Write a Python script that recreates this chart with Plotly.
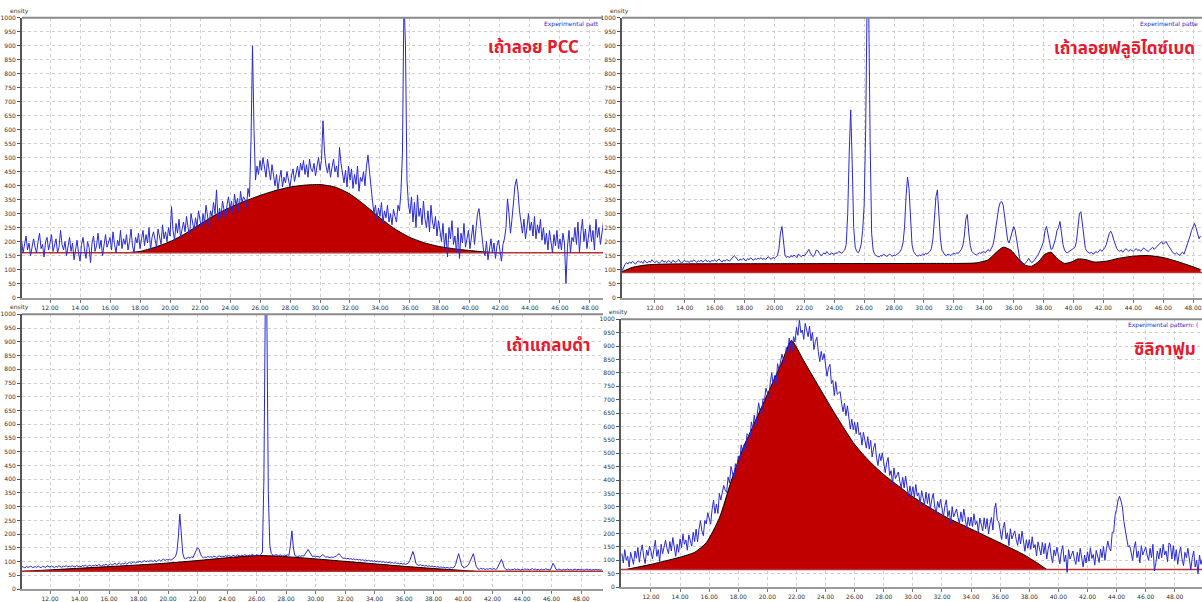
import plotly.graph_objects as go

# ---------------- data ----------------
# Panel 1: เถ้าลอย PCC  (2theta from 10.0, step 0.1)
p1_x0 = 10.0
p1_y = [
175,205,160,190,220,170,195,150,185,210,
180,160,200,230,175,190,145,200,215,170,
195,225,165,185,210,160,180,240,190,170,
200,150,185,215,165,195,135,175,205,160,
130,190,215,170,140,200,180,125,195,220,
165,185,230,175,205,150,190,225,180,200,
215,170,235,190,160,205,185,240,175,210,
190,225,170,200,245,185,160,215,195,230,
175,210,240,185,225,195,250,170,215,235,
205,180,245,220,190,260,210,235,200,250,
220,325,240,205,265,230,280,215,250,270,
235,290,250,220,300,260,240,285,255,310,
270,245,300,265,330,280,255,310,290,340,
300,385,275,320,290,345,310,280,330,360,
315,345,300,370,330,355,305,380,340,360,
350,325,390,360,560,900,600,420,470,440,
490,455,500,470,430,495,460,420,475,445,
400,440,385,425,455,395,430,410,450,420,
395,435,460,415,445,470,430,480,455,490,
440,475,430,495,460,450,480,435,470,500,
455,490,632,520,470,445,480,430,465,495,
450,470,430,537,480,440,410,455,395,470,
420,460,390,440,405,470,380,430,415,450,
400,470,509,450,380,345,300,330,280,320,
290,340,265,310,285,330,270,300,260,315,
290,270,330,310,380,520,1080,900,420,330,
300,360,270,340,250,367,290,320,260,345,
280,250,310,235,330,270,245,290,220,275,
240,200,265,180,230,145,250,210,275,190,
220,160,250,140,230,195,265,180,210,240,
175,225,260,190,240,300,318,270,210,170,
150,200,135,180,210,160,195,140,185,205,
170,130,190,210,250,353,300,230,280,350,
400,424,380,310,260,230,280,210,250,300,
240,270,220,290,210,260,230,280,205,250,
190,230,170,240,200,160,225,185,240,175,
210,170,230,195,50,180,240,160,215,200,
250,190,270,160,235,280,200,245,175,220,
260,200,240,170,280,215,250,190,235,270,
]
p1_base = 160
p1_hump_x = [17,18,19,20,21,22,23,24,25,26,27,28,29,30,31,32,33,34,35,36,37,38,39,40,41,42]
p1_hump_y = [160,165,180,200,228,262,295,322,345,365,382,395,402,404,395,370,330,285,245,215,195,182,174,168,163,160]

# Panel 2: เถ้าลอยฟลูอิไดซ์เบด (from 9.8, step 0.1)
p2_x0 = 9.8
p2_y = [
95,110,
118,125,120,128,122,130,124,119,127,131,
125,129,122,133,127,124,130,126,135,128,
124,131,127,122,129,134,126,130,125,132,
128,124,133,129,126,131,136,127,123,130,
133,127,130,125,132,128,135,130,126,131,
129,134,127,131,136,128,132,126,133,130,
135,129,133,138,131,127,134,130,136,132,
130,137,142,150,145,136,131,138,134,140,
136,131,139,135,142,137,133,140,136,141,
138,143,136,140,135,142,146,139,137,144,
140,146,150,175,230,254,190,152,143,148,
142,150,145,152,148,143,155,149,146,152,
148,156,165,172,160,150,147,155,170,168,
158,150,153,160,155,165,158,152,160,156,
154,160,158,165,162,158,165,170,190,300,
520,671,480,250,180,165,160,170,190,240,
330,600,1080,1060,560,230,170,155,150,148,
145,150,148,155,152,147,150,156,150,148,
152,150,155,158,165,175,195,250,360,431,
390,260,190,165,155,150,148,152,150,155,
152,158,155,160,165,175,210,280,360,385,
300,210,170,158,152,150,155,153,150,156,
158,155,160,158,165,172,185,220,280,297,
230,185,165,158,155,152,156,160,158,162,
165,160,168,172,165,175,185,210,250,300,
320,340,343,330,290,240,205,195,215,240,
254,240,200,165,140,125,120,118,125,130,
140,130,125,128,135,140,150,160,170,185,
200,240,254,225,190,172,175,190,210,240,
250,272,230,190,170,162,160,165,170,172,
175,180,200,250,300,307,260,200,175,165,
160,158,162,155,158,165,160,168,172,165,
170,178,190,210,230,237,225,205,185,175,
168,165,170,162,168,175,170,165,172,168,
165,170,175,168,172,165,170,178,172,168,
165,170,175,180,172,178,185,190,195,200,
190,195,201,190,180,170,165,158,155,160,
155,150,158,162,155,170,185,200,220,240,
255,265,250,230,210,220,
]
p2_base = 90
p2_hump_x = [9.8,10.5,11.5,13,20,30,33.5,34.3,34.8,35.3,35.8,36.3,36.8,37.2,37.7,38.1,38.5,38.9,39.4,39.9,40.3,40.8,41.4,42.2,43,44,45,46,47,48,48.5]
p2_hump_y = [92,108,117,120,121,122,124,135,160,180,170,140,115,112,130,155,162,140,122,128,138,136,127,130,140,148,150,143,128,110,100]

# Panel 3: เถ้าแกลบดำ (from 10.0, step 0.1)
p3_x0 = 10.0
p3_y = [
78,82,80,77,83,79,81,84,78,80,
82,79,84,80,78,83,81,79,85,82,
80,84,81,78,83,80,85,82,79,84,
82,86,80,84,81,85,83,80,86,82,
84,81,86,83,88,82,85,87,83,86,
85,88,84,90,86,83,89,87,91,86,
88,92,87,90,94,89,92,95,90,93,
92,96,91,95,98,93,97,100,95,99,
98,102,97,101,104,99,103,100,105,102,
101,105,100,104,107,103,106,109,104,108,
106,109,105,110,112,118,135,190,273,190,
130,112,110,114,116,112,118,115,125,140,
151,145,128,118,114,117,115,119,116,118,
116,120,118,115,119,121,117,120,118,122,
119,122,120,118,123,121,119,124,122,120,
123,121,125,122,120,124,122,126,123,121,
125,123,122,126,135,400,1080,1000,350,160,
130,124,122,126,123,121,125,122,120,124,
121,125,123,160,212,150,122,120,118,121,
119,122,120,128,138,144,135,124,118,121,
117,120,118,116,122,126,120,116,118,115,
114,117,115,118,120,125,129,122,114,112,
113,110,112,109,111,108,110,107,109,106,
108,105,107,104,106,103,105,102,104,101,
103,100,102,99,101,98,100,97,99,96,
98,95,97,94,96,93,95,92,94,91,
93,90,92,95,105,125,137,120,95,88,
86,89,85,87,84,86,83,85,82,84,
81,83,80,82,79,81,78,80,77,79,
78,76,79,77,80,90,110,129,110,88,
80,78,82,85,92,105,120,129,105,82,
74,72,76,73,75,71,74,72,75,73,
72,75,71,74,85,100,108,95,78,72,
70,73,69,72,71,74,70,73,71,69,
72,70,74,71,73,70,72,75,71,73,
70,72,69,73,71,70,74,72,71,69,
80,94,85,72,70,73,71,69,72,70,
71,73,70,72,69,71,73,70,72,71,
70,72,69,71,73,70,72,69,71,70,
72,70,71,69,72,
]
p3_base = 65
p3_hump_x = [10.2,12,14,16,18,20,22,24,26,27,28,30,32,34,36,38,40,40.8]
p3_hump_y = [65,70,76,82,88,95,104,114,122,121,118,110,101,92,83,75,68,65]

# Panel 4: ซิลิกาฟูม (from 10.0, step 0.1)
p4_x0 = 10.0
p4_y = [
125,90,140,100,115,75,130,110,85,135,
108,148,93,133,158,113,88,138,118,153,
135,105,150,175,115,140,95,160,125,145,
175,145,125,170,135,185,150,115,160,130,
180,147,198,160,176,138,195,176,153,205,
170,217,169,216,248,210,192,249,236,278,
255,235,290,325,275,310,275,350,325,355,
380,362,354,411,388,450,427,404,461,443,
490,468,531,504,532,505,573,566,554,617,
590,642,599,651,688,655,642,704,696,743,
725,707,764,801,753,790,757,834,811,843,
870,850,840,895,870,930,905,880,935,915,
970,940,1000,950,960,925,985,960,935,975,
920,951,887,917,933,879,842,880,849,872,
830,787,820,832,760,772,715,767,720,727,
730,687,655,687,640,677,634,590,627,588,
615,573,616,569,577,530,578,551,519,562,
515,548,486,519,537,485,454,498,472,501,
465,428,466,484,417,435,385,445,405,420,
430,395,370,410,370,415,376,337,378,344,
375,337,383,340,352,308,360,337,308,355,
312,349,291,328,350,301,273,320,297,328,
295,262,304,326,263,286,238,300,262,280,
292,260,238,281,244,292,255,218,261,229,
262,226,274,233,246,205,258,237,210,259,
218,256,199,237,260,213,290,313,250,244,
210,178,220,243,180,203,155,218,180,198,
210,178,156,198,161,209,172,134,177,145,
178,141,188,146,159,117,169,147,120,167,
125,163,105,143,166,119,91,139,117,149,
117,87,132,155,95,120,55,140,105,125,
135,105,85,130,95,145,110,75,120,90,
132,97,147,107,122,82,137,117,92,142,
110,152,100,143,172,145,135,205,205,270,
290,325,339,322,300,245,205,180,150,155,
130,100,145,170,110,135,90,155,120,140,
150,120,100,145,110,160,60,90,135,105,
145,110,160,120,135,95,165,160,105,155,
100,140,85,125,150,105,80,130,110,145,
95,65,110,135,75,100,50,120,85,105,
]
p4_base = 66
p4_hump_x = [10.3,12,13,14,15,15.8,16.7,17.5,18.3,19,20,21,21.65,22.5,23.5,24.5,25.3,25.9,26.5,27.2,28,29,29.8,31,32.4,33.5,35,36.3,37.6,38.5,39.2]
p4_hump_y = [66,85,98,112,130,166,258,394,516,600,720,840,921,845,752,660,590,540,500,460,420,378,345,302,258,230,191,157,122,92,66]

titles = ["เถ้าลอย PCC", "เถ้าลอยฟลูอิไดซ์เบด", "เถ้าแกลบดำ", "ซิลิกาฟูม"]
legend_texts = ["Experimental patt", "Experimental patte", "", "Experimental pattern: ("]
y_ticks = list(range(0, 1001, 50))
x_ticks = list(range(12, 49, 2))

# ---------------- layout helpers ----------------
W, H = 1202, 602
panels = [
    dict(l=22, r=603, t=14, b=297, xr=[10.13, 48.87], tx=533, ty=45),
    dict(l=622, r=1202, t=14, b=297, xr=[9.8, 48.6], tx=1124, ty=46),
    dict(l=22, r=603, t=314, b=592, xr=[10.1, 49.49], tx=548, ty=346),
    dict(l=621, r=1202, t=319, b=590, xr=[9.94, 49.87], tx=1165, ty=350),
]
data = [
    (p1_x0, p1_y, p1_base, p1_hump_x, p1_hump_y),
    (p2_x0, p2_y, p2_base, p2_hump_x, p2_hump_y),
    (p3_x0, p3_y, p3_base, p3_hump_x, p3_hump_y),
    (p4_x0, p4_y, p4_base, p4_hump_x, p4_hump_y),
]

fig = go.Figure()
FILL = "#c00000"
BLUE = "#2a2ad2"
annotations = []
shapes = []
layout_axes = {}

for i, (pn, (x0, ys, base, hx, hy)) in enumerate(zip(panels, data)):
    k = "" if i == 0 else str(i + 1)
    xa, ya = "x" + k, "y" + k
    xs = [round(x0 + 0.1 * j, 2) for j in range(len(ys))]
    fig.add_trace(go.Scatter(x=[hx[0], hx[-1]], y=[base, base], mode="lines",
                             line=dict(width=0, color=FILL), xaxis=xa, yaxis=ya,
                             showlegend=False, hoverinfo="skip"))
    fig.add_trace(go.Scatter(x=hx, y=hy, mode="lines", fill="tonexty", fillcolor=FILL,
                             line=dict(color="#000000", width=1, shape="spline", smoothing=0.6),
                             xaxis=xa, yaxis=ya, showlegend=False, hoverinfo="skip"))
    fig.add_trace(go.Scatter(x=[pn["xr"][0], pn["xr"][1]], y=[base, base], mode="lines",
                             line=dict(color="#b83030", width=1.5), xaxis=xa, yaxis=ya,
                             showlegend=False, hoverinfo="skip"))
    fig.add_trace(go.Scatter(x=xs, y=ys, mode="lines", line=dict(color=BLUE, width=1),
                             xaxis=xa, yaxis=ya, showlegend=False))

    xd = [pn["l"] / W, pn["r"] / W]
    yd = [1 - pn["b"] / H, 1 - pn["t"] / H]
    layout_axes["xaxis" + k] = dict(
        domain=xd, range=pn["xr"], anchor=ya, tickvals=x_ticks,
        ticktext=["%.2f" % v for v in x_ticks], tickfont=dict(size=6, color="#333"),
        showline=True, linecolor="#9a9a9a", linewidth=2, ticks="outside", ticklen=3,
        tickcolor="#777", showgrid=True, gridcolor="#cfcfcf", griddash="dot", gridwidth=1,
        zeroline=False, fixedrange=True)
    layout_axes["yaxis" + k] = dict(
        domain=yd, range=[0, 1000], anchor=xa, tickvals=y_ticks,
        tickfont=dict(size=6, color="#333"), showline=True, linecolor="#555",
        linewidth=2, ticks="outside", ticklen=3, tickcolor="#555", showgrid=True,
        gridcolor="#cfcfcf", griddash="dot", gridwidth=1, zeroline=False, fixedrange=True)
    shapes.append(dict(type="line", xref="paper", yref="paper", x0=xd[0], x1=xd[1],
                       y0=yd[1], y1=yd[1], line=dict(color="#8a8a8a", width=2)))
    annotations.append(dict(text="<b>%s</b>" % titles[i], xref="paper", yref="paper",
                            x=pn["tx"] / W, y=1 - pn["ty"] / H, showarrow=False,
                            xanchor="center", yanchor="middle",
                            font=dict(size=17, color="#e8182e",
                                      family="Noto Sans Thai, Loma, Tahoma, DejaVu Sans, sans-serif")))
    annotations.append(dict(text="ensity", xref="paper", yref="paper",
                            x=(pn["l"] - 14) / W, y=1 - (pn["t"] - 7) / H, showarrow=False,
                            xanchor="left", yanchor="middle", font=dict(size=6, color="#333")))
    if legend_texts[i]:
        annotations.append(dict(text=legend_texts[i], xref="paper", yref="paper",
                                x=(pn["r"] - 2) / W, y=1 - (pn["t"] + 6) / H, showarrow=False,
                                xanchor="right", yanchor="middle",
                                font=dict(size=6, color="#2a2ad2")))

fig.update_layout(width=W, height=H, margin=dict(l=0, r=0, t=0, b=0),
                  paper_bgcolor="white", plot_bgcolor="white",
                  annotations=annotations, shapes=shapes, showlegend=False,
                  font=dict(family="DejaVu Sans, sans-serif"), **layout_axes)
fig.write_html("out.html", config={"displayModeBar": False, "staticPlot": True},
               post_script="document.body.style.margin='0';document.body.style.overflow='hidden';")
